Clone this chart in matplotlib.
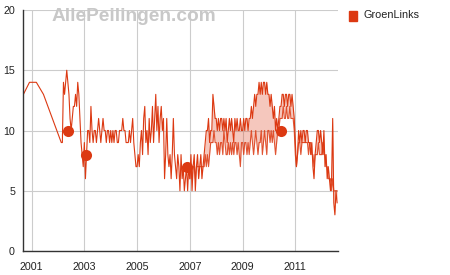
import matplotlib
matplotlib.use('Agg')
import matplotlib.pyplot as plt
from matplotlib.patches import Rectangle

# ---- data (seats) ----
early_dates = [2000.69, 2000.92, 2001.18, 2001.45]
early_seats = [13, 14, 14, 13]

# half-monthly polls (first pollster); 2002 starts at 2002.125
pollA = {
    2002: [9, 9, 14, 13, 14, 15, 14, 13, 11, 10, 11, 12, 12, 13, 12, 14, 13, 11, 9, 8, 7],
    2003: [9, 6, 8, 10, 10, 9, 12, 10, 9, 10, 10, 9, 10, 11, 10, 9, 10, 11, 10, 10, 9, 10, 10, 9],
    2004: [10, 9, 10, 9, 10, 10, 9, 9, 10, 10, 10, 11, 10, 10, 9, 9, 9, 10, 9, 10, 11, 9, 8, 7],
    2005: [7, 8, 7, 9, 10, 8, 11, 12, 9, 10, 8, 11, 9, 10, 12, 9, 11, 13, 10, 12, 9, 11, 12, 10],
    2006: [11, 6, 8, 11, 8, 7, 8, 6, 8, 11, 8, 7, 6, 8, 7, 5, 8, 6, 7, 5, 6, 7, 5, 7],
    2007: [6, 8, 5, 7, 8, 5, 7, 8, 6, 7, 8, 6, 7, 8, 9, 10, 10, 11, 9, 10, 10, 13, 12, 11],
    2008: [11, 10, 11, 10, 11, 11, 10, 11, 10, 11, 9, 10, 11, 10, 11, 10, 9, 11, 10, 11, 10, 10, 11, 10],
    2009: [10, 11, 10, 11, 11, 10, 11, 11, 12, 11, 12, 13, 12, 13, 13, 14, 13, 14, 13, 14, 14, 13, 14, 13],
    2010: [13, 12, 13, 12, 11, 12, 10, 11, 10, 11, 12, 12, 13, 13, 12, 13, 13, 12, 13, 13, 12, 13, 12, 11],
    2011: [9, 7, 8, 10, 9, 10, 9, 10, 10, 9, 10, 10, 9, 9, 8, 9, 7, 6, 8, 9, 10, 10, 9, 10],
    2012: [9, 8, 10, 7, 8, 6, 7, 6, 5, 6, 11, 4, 3, 5, 4],
}
# second pollster, half-monthly from 2007
pollB = {
    2007: [6, 7, 6, 7, 7, 6, 7, 7, 7, 7, 7, 7, 7, 7, 8, 7, 8, 7, 8, 9, 9, 9, 10, 9],
    2008: [9, 8, 9, 8, 9, 9, 8, 10, 9, 8, 8, 9, 8, 9, 8, 9, 8, 9, 9, 8, 9, 8, 7, 9],
    2009: [9, 8, 9, 9, 8, 9, 8, 9, 10, 9, 8, 9, 10, 9, 8, 9, 9, 10, 8, 9, 10, 9, 8, 10],
    2010: [10, 9, 10, 9, 10, 9, 8, 9, 10, 10, 11, 11, 11, 12, 11, 11, 12, 11, 11, 12, 11, 11, 11, 10],
    2011: [8, 7, 8, 9, 9, 8, 9, 9, 9, 9, 9, 9, 8, 9, 9, 8, 8, 7, 8, 8, 8, 9, 8, 8],
    2012: [8, 9, 8, 8, 7, 7, 6, 6, 6, 5, 6, 5, 5, 5, 5],
}
election_dates = [2002.37, 2003.07, 2006.89, 2010.44]
election_seats = [10, 8, 7, 10]

x_ticks = [2001, 2003, 2005, 2007, 2009, 2011]
x_labels = ['2001', '2003', '2005', '2007', '2009', '2011']
y_ticks = [0, 5, 10, 15, 20]
series_name = 'GroenLinks'

# ---- assemble ----
def build(d):
    xs, ys = [], []
    for yr, vals in d.items():
        off = 3 if yr == 2002 else 0
        for i, v in enumerate(vals):
            xs.append(yr + (i + off) / 24.0)
            ys.append(v)
    return xs, ys

ax_d, ay_d = build(pollA)
bx, by = build(pollB)
ax_all = early_dates + ax_d
ay_all = early_seats + ay_d
start = ax_d.index(bx[0])
a_sub = ay_d[start:start + len(bx)]

red = '#dc3912'
plt.rcParams['font.family'] = ['Liberation Sans', 'DejaVu Sans']

fig = plt.figure(figsize=(4.5, 2.75), dpi=100)
ax = fig.add_axes([0.0518, 0.0873, 0.6986, 0.8763])

ax.fill_between(bx, a_sub, by, color=red, alpha=0.28, linewidth=0)
ax.plot(bx, by, color=red, lw=0.8, alpha=0.85)
ax.plot(ax_all, ay_all, color=red, lw=0.8)
ax.plot(election_dates, election_seats, 'o', color=red, ms=8, mec='none', zorder=5)

ax.set_xlim(2000.686, 2012.606)
ax.set_ylim(0, 20)
ax.set_xticks(x_ticks)
ax.set_xticklabels(x_labels)
ax.set_yticks(y_ticks)
ax.grid(True, color='#cccccc', lw=0.8)
ax.set_axisbelow(True)
for s in ['top', 'right']:
    ax.spines[s].set_visible(False)
for s in ['left', 'bottom']:
    ax.spines[s].set_color('#333333')
    ax.spines[s].set_linewidth(1.0)
    ax.spines[s].set_zorder(6)
ax.tick_params(length=0, labelsize=7.7, colors='#222222', pad=6)
ax.tick_params(axis='x', pad=8)

fig.text(52 / 450, 1 - 21 / 275, 'AllePeilingen.com',
         fontsize=13.8, fontweight='bold', color='#c8c8c8', va='baseline', ha='left')

fig.patches.append(Rectangle((349 / 450, 1 - 21 / 275), 8 / 450, 10 / 275,
                             transform=fig.transFigure, color=red, figure=fig))
fig.text(363 / 450, 1 - 15.5 / 275, series_name, fontsize=7.8, color='#222222',
         va='center', ha='left')

fig.savefig('out.png', dpi=100)
